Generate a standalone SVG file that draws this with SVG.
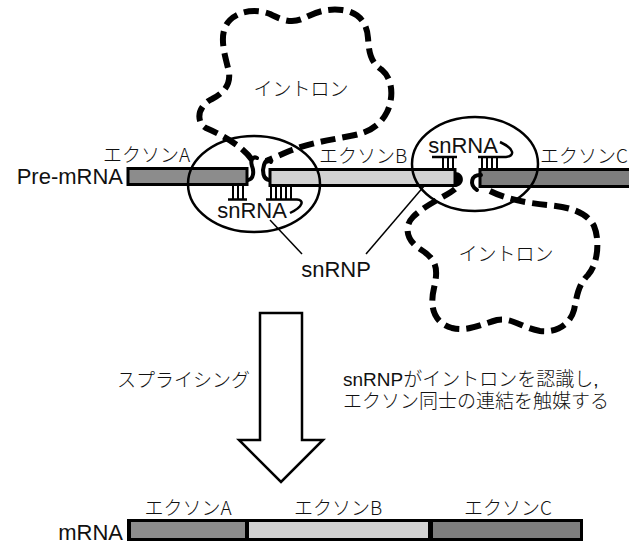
<svg xmlns="http://www.w3.org/2000/svg" width="629" height="545" viewBox="0 0 629 545">
  <style>
    .txt { font-family: "Liberation Sans", "Noto Sans CJK JP", sans-serif; fill: #111; }
    .kana { font-family: "Noto Sans CJK JP", "Liberation Sans", sans-serif; font-size: 19px; font-weight: 300; fill: #111; }
    .jp { font-size: 19px; font-weight: 300; }
    .lat { font-size: 22px; }
    .bar { stroke: #000; stroke-width: 3; }
    .exA { fill: #8c8c8c; }
    .exB { fill: #d2d2d2; }
    .exC { fill: #7e7e7e; }
    .intron { fill: none; stroke: #000; stroke-width: 6; stroke-dasharray: 15 7; }
    .snrnp { fill: none; stroke: #000; stroke-width: 2.5; }
    .snrna { fill: none; stroke: #000; stroke-width: 2.5; }
    .tick { stroke: #000; stroke-width: 2; }
    .hook { fill: none; stroke: #000; stroke-width: 4; stroke-linecap: round; }
    .lead { stroke: #000; stroke-width: 1.5; }
  </style>

  <!-- pre-mRNA exons -->
  <g id="pre-mrna">
    <text class="txt lat" x="123" y="184" text-anchor="end" font-size="23">Pre-mRNA</text>
    <g id="exon-a">
      <rect class="bar exA" x="128" y="168.5" width="119" height="16"/>
      <text class="kana" x="103" y="162">エクソンA</text>
    </g>
    <g id="exon-b">
      <rect class="bar exB" x="270" y="169.5" width="185" height="16"/>
      <text class="kana" x="319" y="163">エクソンB</text>
    </g>
    <g id="exon-c">
      <rect class="bar exC" x="480" y="169.5" width="155" height="17"/>
      <text class="kana" x="540" y="163">エクソンC</text>
    </g>
  </g>

  <!-- upper intron loop -->
  <g id="intron-upper">
    <path class="intron" d="M252,160 C243,146 220,134 206,128 C196,123 197,106 212,99 C226,92 232,82 228,68 C224,52 218,32 230,20 C240,10 258,9 270,14 C280,19 290,24 302,19 C314,13 326,8 342,10 C358,12 367,22 368,38 C369,52 370,62 382,70 C394,80 393,100 387,112 C380,126 368,133 350,136 C330,140 310,143 292,150 C282,154 274,158 266,161"/>
    <text class="kana" x="301" y="96" text-anchor="middle">イントロン</text>
  </g>

  <!-- lower intron loop -->
  <g id="intron-lower">
    <path class="intron" d="M455,189 C447,196 426,204 413,217 C404,226 406,240 420,249 C438,260 438,270 434,288 C430,305 432,322 452,328 C468,332 482,324 497,320 C512,317 522,328 540,331 C556,333 570,325 574,310 C577,296 578,285 588,275 C598,264 600,240 594,226 C586,211 568,207 548,205 C526,203 505,199 488,190"/>
    <text class="kana" x="506" y="261" text-anchor="middle">イントロン</text>
  </g>

  <!-- left snRNP at the A/B junction -->
  <g id="snrnp-left">
    <ellipse class="snrnp" cx="254" cy="184" rx="66" ry="48"/>
    <path class="hook" d="M248,180 C254,179 254,171 252,166 C250,160 253,156 257,158"/>
    <path class="hook" d="M269,180 C263,179 262,171 264,165 C266,159 270,158 271,162"/>
    <g class="tick">
      <line x1="233" y1="186" x2="233" y2="199"/>
      <line x1="238" y1="186" x2="238" y2="199"/>
      <line x1="243" y1="186" x2="243" y2="199"/>
      <line x1="271" y1="187" x2="271" y2="199"/>
      <line x1="276" y1="187" x2="276" y2="199"/>
      <line x1="281" y1="187" x2="281" y2="199"/>
      <line x1="286" y1="187" x2="286" y2="199"/>
      <line x1="291" y1="187" x2="291" y2="199"/>
    </g>
    <path class="snrna" d="M228,199.5 H247 M266,199.5 H297 C304,200 304,206 290,213"/>
    <text class="txt lat" x="252" y="218" text-anchor="middle">snRNA</text>
  </g>

  <!-- right snRNP at the B/C junction -->
  <g id="snrnp-right">
    <ellipse class="snrnp" cx="475" cy="164" rx="63" ry="47"/>
    <path d="M455,172 C465,172 466,186 455,187 Z" fill="#000"/>
    <path class="hook" d="M481,175 C471,174 469,185 477,190"/>
    <g class="tick">
      <line x1="443" y1="157" x2="443" y2="169"/>
      <line x1="448" y1="157" x2="448" y2="169"/>
      <line x1="453" y1="157" x2="453" y2="169"/>
      <line x1="482" y1="157" x2="482" y2="169"/>
      <line x1="487" y1="157" x2="487" y2="169"/>
      <line x1="492" y1="157" x2="492" y2="169"/>
      <line x1="497" y1="157" x2="497" y2="169"/>
    </g>
    <path class="snrna" d="M432,157 H457 M478,157 H506 C515,156 515,149 500,142"/>
    <text class="txt lat" x="463" y="153" text-anchor="middle">snRNA</text>
  </g>

  <!-- snRNP leader lines -->
  <g id="connectors">
    <line class="lead" x1="270" y1="220" x2="302" y2="254"/>
    <line class="lead" x1="425" y1="185" x2="366" y2="254"/>
  </g>
  <text id="snrnp-label" class="txt lat" x="336" y="277" text-anchor="middle">snRNP</text>

  <!-- splicing step -->
  <g id="splicing-arrow">
    <path d="M260,313 H302 V440 H323 L281,482 L239,440 H260 Z" fill="#fff" stroke="#000" stroke-width="2.5" stroke-linejoin="miter"/>
    <text class="kana" x="117" y="387">スプライシング</text>
  </g>
  <g id="note">
    <text class="txt jp"><tspan x="343" y="386">snRNPがイントロンを認識し,</tspan><tspan x="343" y="408" font-family="Noto Sans CJK JP, sans-serif">エクソン同士の連結を触媒する</tspan></text>
  </g>

  <!-- mature mRNA -->
  <g id="mrna">
    <text class="txt lat" x="123" y="540" text-anchor="end">mRNA</text>
    <rect x="127" y="519" width="456" height="22" fill="#000"/>
    <rect class="exA" x="131" y="522" width="114" height="16"/>
    <rect class="exB" x="249" y="522" width="179" height="16"/>
    <rect class="exC" x="433" y="522" width="147" height="16"/>
    <text class="kana" x="188" y="515" text-anchor="middle">エクソンA</text>
    <text class="kana" x="338" y="515" text-anchor="middle">エクソンB</text>
    <text class="kana" x="508" y="515" text-anchor="middle">エクソンC</text>
  </g>
</svg>
